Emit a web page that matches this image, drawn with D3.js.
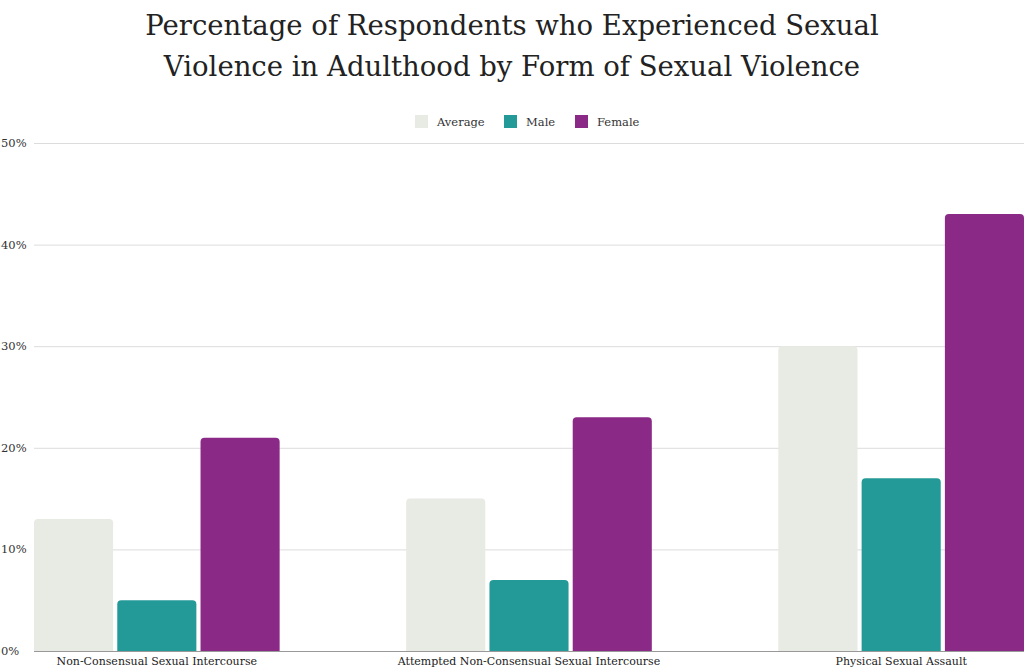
<!DOCTYPE html>
<html>
<head>
<meta charset="utf-8">
<script src="https://cdn.jsdelivr.net/npm/d3@7"></script>
<style>
  body { margin: 0; background: #fff; }
  svg { display: block; font-family: "DejaVu Serif", "Liberation Serif", serif; }
</style>
</head>
<body>
<svg id="mychart"></svg>
<script>
const width = 1024
const height = 671
const margin = ({top: 143, right: 0, bottom: 20, left: 34})

const categories = ["Non-Consensual Sexual Intercourse", "Attempted Non-Consensual Sexual Intercourse", "Physical Sexual Assault"]
const seriesNames = ["Average", "Male", "Female"]
const average = [13, 15, 30]
const male = [5, 7, 17]
const female = [21, 23, 43]
const yTicks = [0, 10, 20, 30, 40, 50]
const colors = ["#e8eae4", "#249a98", "#8b2a86"]

const values = [average, male, female]
const rows = categories.map((c, i) => ({
  name: c,
  vals: seriesNames.map((s, j) => ({key: s, value: values[j][i]}))
}))

const x0 = d3.scaleBand()
    .domain(categories)
    .range([margin.left, width - margin.right])
    .paddingInner(0.34)
    .paddingOuter(0)

const x1 = d3.scaleBand()
    .domain(seriesNames)
    .range([0, x0.bandwidth()])
    .paddingInner(0.05)

const y = d3.scaleLinear()
    .domain([0, 50])
    .range([height - margin.bottom, margin.top])

const color = d3.scaleOrdinal(seriesNames, colors)

// bar with rounded top corners
function barPath(x, y0, w, h, r) {
  r = Math.min(r, h, w / 2)
  return `M${x},${y0 + h}V${y0 + r}Q${x},${y0} ${x + r},${y0}H${x + w - r}Q${x + w},${y0} ${x + w},${y0 + r}V${y0 + h}Z`
}

function chart() {
  const svg = d3.select('#mychart')
      .attr('width', width)
      .attr('height', height)
      .attr('viewBox', [0, 0, width, height])

  // title
  svg.append("text")
      .attr("x", width / 2)
      .attr("text-anchor", "middle")
      .attr("fill", "#222")
      .attr("font-size", 27.5)
      .selectAll("tspan")
      .data(["Percentage of Respondents who Experienced Sexual", "Violence in Adulthood by Form of Sexual Violence"])
      .join("tspan")
      .attr("x", width / 2)
      .attr("y", (d, i) => 35 + i * 41)
      .text(d => d)

  // legend
  const legendX = [415, 504, 575]
  const legend = svg.append("g")
      .selectAll("g")
      .data(seriesNames)
      .join("g")
      .attr("transform", (d, i) => `translate(${legendX[i]},115)`)
  legend.append("rect")
      .attr("width", 13)
      .attr("height", 13)
      .attr("fill", d => color(d))
  legend.append("text")
      .attr("x", 22)
      .attr("y", 11)
      .attr("font-size", 11.5)
      .attr("fill", "#333")
      .text(d => d)

  // grid + y labels
  const yAxis = g => g
      .call(g => g.selectAll("line")
        .data(yTicks.filter(d => d > 0))
        .join("line")
        .attr("x1", margin.left)
        .attr("x2", width)
        .attr("y1", d => y(d) + 0.5)
        .attr("y2", d => y(d) + 0.5)
        .attr("stroke", "#dcdcdc"))
      .call(g => g.selectAll("text")
        .data(yTicks)
        .join("text")
        .attr("x", 1)
        .attr("y", d => y(d) + 4)
        .attr("font-size", 11.5)
        .attr("fill", "#333")
        .text(d => d + "%"))

  svg.append("g").call(yAxis)

  // bars
  svg.append("g")
      .selectAll("g")
      .data(rows)
      .join("g")
      .attr("transform", d => `translate(${x0(d.name)},0)`)
      .selectAll("path")
      .data(d => d.vals)
      .join("path")
      .attr("fill", d => color(d.key))
      .attr("d", d => barPath(x1(d.key), y(d.value), x1.bandwidth(), y(0) - y(d.value), 4))

  // baseline
  svg.append("line")
      .attr("x1", margin.left)
      .attr("x2", width)
      .attr("y1", y(0) + 0.5)
      .attr("y2", y(0) + 0.5)
      .attr("stroke", "#999")

  // x labels
  const xAxis = g => g
      .attr("transform", `translate(0,${y(0)})`)
      .call(d3.axisBottom(x0).tickSize(0).tickPadding(6))
      .call(g => g.select(".domain").remove())
      .call(g => g.selectAll("text")
        .attr("font-family", "DejaVu Serif, Liberation Serif, serif")
        .attr("font-size", 11)
        .attr("fill", "#222"))

  svg.append("g").call(xAxis)

  return svg.node()
}

chart()
</script>
</body>
</html>
